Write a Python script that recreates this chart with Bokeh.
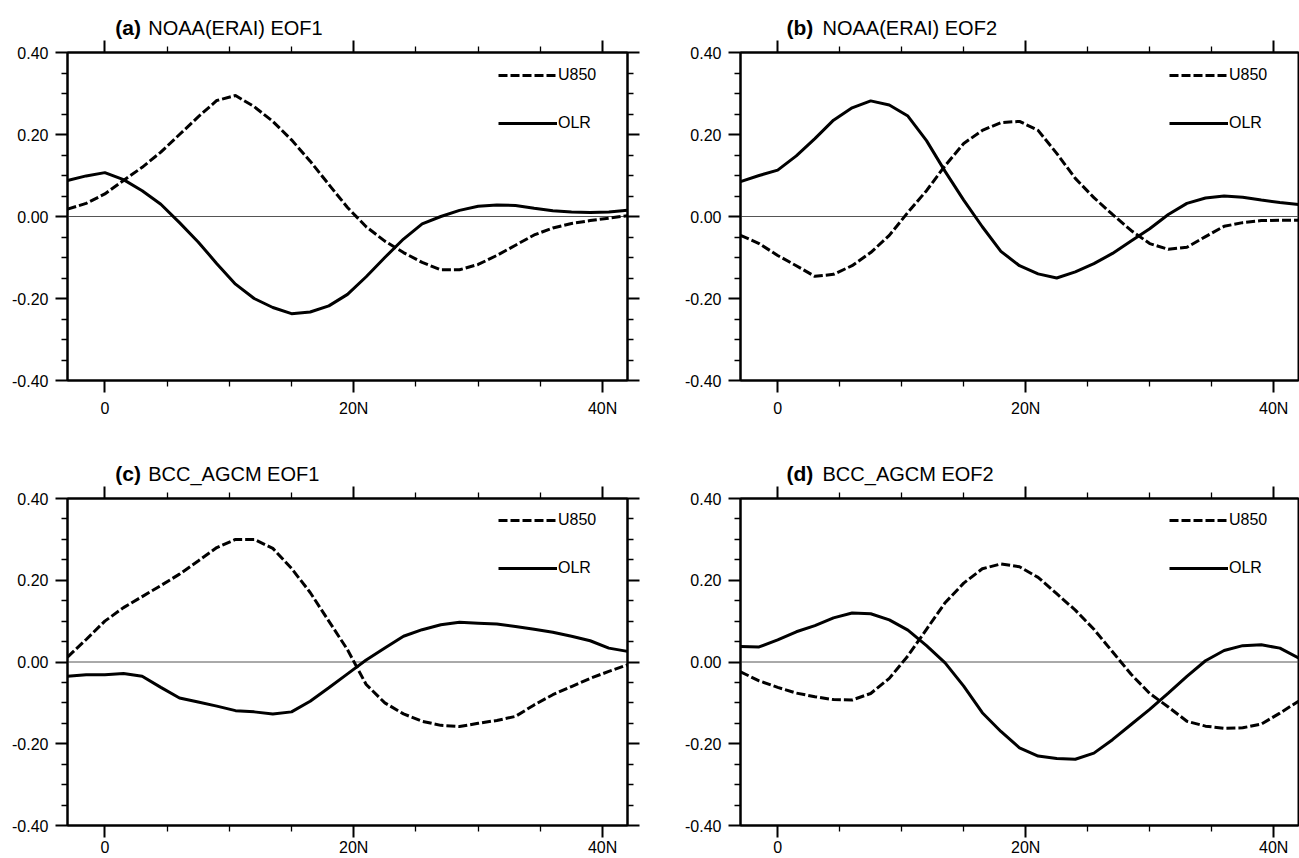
from bokeh.plotting import figure
from bokeh.models import (Range1d, FixedTicker, LinearAxis, Span, Label, Legend,
                          LegendItem, PrintfTickFormatter, CustomJSTickFormatter)
from bokeh.layouts import column, row
from bokeh.embed import file_html
from bokeh.resources import INLINE

# ---------------- data ----------------
lat = [-3.0, -1.5, 0.0, 1.5, 3.0, 4.5, 6.0, 7.5, 9.0, 10.5, 12.0, 13.5, 15.0, 16.5,
       18.0, 19.5, 21.0, 22.5, 24.0, 25.5, 27.0, 28.5, 30.0, 31.5, 33.0, 34.5, 36.0,
       37.5, 39.0, 40.5, 42.0]

u850_a = [0.018, 0.032, 0.055, 0.088, 0.120, 0.157, 0.200, 0.243, 0.283, 0.295, 0.268,
          0.232, 0.187, 0.135, 0.078, 0.022, -0.025, -0.060, -0.088, -0.112, -0.130,
          -0.130, -0.117, -0.095, -0.070, -0.045, -0.028, -0.017, -0.010, -0.004, 0.002]
olr_a = [0.088, 0.099, 0.107, 0.090, 0.063, 0.030, -0.015, -0.062, -0.115, -0.165, -0.200,
         -0.222, -0.237, -0.233, -0.218, -0.190, -0.147, -0.100, -0.055, -0.018, 0.000,
         0.015, 0.025, 0.028, 0.027, 0.020, 0.014, 0.011, 0.010, 0.011, 0.015]

u850_b = [-0.046, -0.066, -0.095, -0.120, -0.146, -0.141, -0.120, -0.088, -0.046, 0.010,
          0.063, 0.124, 0.178, 0.210, 0.229, 0.232, 0.210, 0.154, 0.093, 0.046, 0.005,
          -0.034, -0.066, -0.080, -0.075, -0.049, -0.024, -0.015, -0.010, -0.009, -0.009]
olr_b = [0.085, 0.100, 0.113, 0.148, 0.190, 0.235, 0.265, 0.282, 0.272, 0.245, 0.185,
         0.110, 0.040, -0.025, -0.085, -0.120, -0.140, -0.150, -0.135, -0.115, -0.090,
         -0.060, -0.030, 0.005, 0.032, 0.045, 0.050, 0.047, 0.040, 0.034, 0.029]

u850_c = [0.012, 0.055, 0.100, 0.133, 0.160, 0.187, 0.215, 0.247, 0.280, 0.300, 0.300,
          0.278, 0.229, 0.170, 0.100, 0.030, -0.055, -0.100, -0.127, -0.145, -0.155,
          -0.158, -0.150, -0.143, -0.133, -0.105, -0.080, -0.060, -0.040, -0.023, -0.007]
olr_c = [-0.035, -0.031, -0.031, -0.028, -0.035, -0.062, -0.088, -0.098, -0.108, -0.119,
         -0.122, -0.127, -0.122, -0.096, -0.063, -0.029, 0.005, 0.034, 0.063, 0.079, 0.091,
         0.097, 0.095, 0.093, 0.087, 0.080, 0.073, 0.063, 0.052, 0.034, 0.026]

u850_d = [-0.024, -0.046, -0.062, -0.076, -0.085, -0.092, -0.093, -0.077, -0.040, 0.015,
          0.080, 0.145, 0.193, 0.228, 0.240, 0.233, 0.207, 0.167, 0.127, 0.080, 0.025,
          -0.030, -0.077, -0.110, -0.145, -0.157, -0.162, -0.161, -0.152, -0.125, -0.096]
olr_d = [0.038, 0.037, 0.054, 0.074, 0.089, 0.108, 0.120, 0.118, 0.103, 0.078, 0.040,
         -0.002, -0.059, -0.124, -0.170, -0.210, -0.230, -0.236, -0.238, -0.223, -0.190,
         -0.153, -0.116, -0.076, -0.035, 0.003, 0.028, 0.040, 0.042, 0.034, 0.010]

tags = ["(a)", "(b)", "(c)", "(d)"]
names = ["NOAA(ERAI) EOF1", "NOAA(ERAI) EOF2", "BCC_AGCM EOF1", "BCC_AGCM EOF2"]
series_names = ["U850", "OLR"]

x_major = [0, 20, 40]
x_minor = [5, 10, 15, 25, 30, 35]
x_labels = {0: "0", 20: "20N", 40: "40N"}
y_major = [-0.4, -0.2, 0.0, 0.2, 0.4]
y_minor = [-0.35, -0.3, -0.25, -0.15, -0.1, -0.05, 0.05, 0.1, 0.15, 0.25, 0.3, 0.35]

FONT = "Liberation Sans"
TITLE_H = 40


def style_axis(ax, labels=True):
    ax.axis_line_width = 2
    ax.axis_line_color = "black"
    ax.major_tick_out = 12
    ax.major_tick_in = 0
    ax.minor_tick_out = 6
    ax.minor_tick_in = 0
    ax.major_tick_line_width = 2
    ax.minor_tick_line_width = 1.3
    ax.major_tick_line_color = "black"
    ax.minor_tick_line_color = "black"
    ax.major_label_text_font = FONT
    ax.major_label_text_font_size = "16px"
    ax.major_label_text_color = "black"
    if not labels:
        ax.formatter = CustomJSTickFormatter(code="return ''")
        ax.major_label_text_font_size = "0px"
        ax.major_label_standoff = 0


def make_panel(i, u, olr, left_col, top_row):
    width = 680 if left_col else 619
    border_l = 67 if left_col else 60
    border_r = 53 if left_col else 1
    frame_w = width - border_l - border_r
    height = 406 if top_row else 372
    border_b = 66 if top_row else 32

    # title strip (bold tag + normal name)
    t = figure(width=width, height=TITLE_H, x_range=Range1d(0, width),
               y_range=Range1d(0, TITLE_H), min_border=0,
               output_backend="svg", toolbar_location=None,
               x_axis_location=None, y_axis_location=None)
    t.xgrid.visible = False
    t.ygrid.visible = False
    t.outline_line_color = None
    t.background_fill_color = "white"
    t.border_fill_color = "white"
    t.add_layout(Label(x=border_l - 9, y=13, text=tags[i], text_font=FONT,
                       text_font_size="21px", text_font_style="bold",
                       text_baseline="middle", text_color="black"))
    t.add_layout(Label(x=border_l + 31, y=13, text=names[i], text_font=FONT,
                       text_font_size="20px", text_baseline="middle",
                       text_color="black"))

    p = figure(width=width, height=height,
               x_range=Range1d(-3, 42), y_range=Range1d(-0.4, 0.4),
               output_backend="svg", toolbar_location=None,
               min_border_left=border_l, min_border_right=border_r,
               min_border_top=12, min_border_bottom=border_b)
    p.xgrid.visible = False
    p.ygrid.visible = False
    p.outline_line_color = "black"
    p.outline_line_width = 2
    p.background_fill_color = "white"
    p.border_fill_color = "white"

    xt = FixedTicker(ticks=x_major, minor_ticks=x_minor)
    yt = FixedTicker(ticks=y_major, minor_ticks=y_minor)

    p.xaxis.ticker = xt
    p.xaxis.major_label_overrides = x_labels
    p.yaxis.ticker = yt
    p.yaxis.formatter = PrintfTickFormatter(format="%.2f")
    style_axis(p.xaxis[0])
    style_axis(p.yaxis[0])
    p.xaxis.major_label_standoff = 7 if top_row else 1
    p.yaxis.major_label_standoff = 7

    top_ax = LinearAxis(ticker=xt)
    style_axis(top_ax, labels=False)
    p.add_layout(top_ax, "above")
    if left_col:
        right_ax = LinearAxis(ticker=yt)
        style_axis(right_ax, labels=False)
        p.add_layout(right_ax, "right")

    zero = Span(location=0, dimension="width", line_color="#555555",
                line_width=1, level="underlay")
    p.add_layout(zero)

    r_u = p.line(lat, u, line_color="black", line_width=3, line_dash="9 3")
    r_o = p.line(lat, olr, line_color="black", line_width=3)

    fh = 328
    legend = Legend(items=[LegendItem(label=series_names[0], renderers=[r_u]),
                           LegendItem(label=series_names[1], renderers=[r_o])],
                    location=(frame_w - 129, fh - 81),
                    glyph_width=59, glyph_height=20, label_height=20,
                    label_standoff=1, spacing=28, padding=0, margin=0,
                    border_line_color=None, background_fill_alpha=0,
                    label_text_font=FONT, label_text_font_size="16px",
                    label_text_color="black")
    p.add_layout(legend)
    return column(t, p, spacing=0)


pa = make_panel(0, u850_a, olr_a, True, True)
pb = make_panel(1, u850_b, olr_b, False, True)
pc = make_panel(2, u850_c, olr_c, True, False)
pd = make_panel(3, u850_d, olr_d, False, False)

layout = column(row(pa, pb, spacing=0), row(pc, pd, spacing=0), spacing=0)

open("out.html", "w").write(file_html(layout, INLINE))
